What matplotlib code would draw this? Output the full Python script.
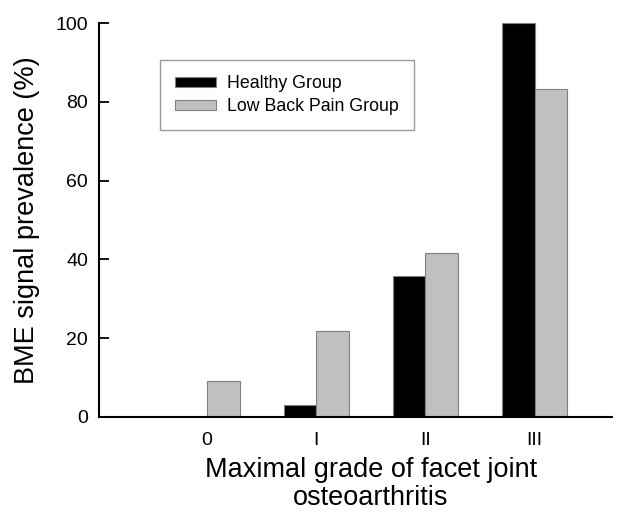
import numpy as np
import matplotlib.pyplot as plt

plt.rcParams['font.family'] = ['Liberation Sans', 'DejaVu Sans']

# Data
grades = ['0', 'I', 'II', 'III']
healthy = [0, 3.0, 35.7, 100]
low_back_pain = [9.1, 21.7, 41.7, 83.3]

x = np.arange(len(grades))
w = 0.30

fig = plt.figure(figsize=(6.35, 5.12), dpi=100)
ax = fig.add_axes([0.156, 0.186, 0.808, 0.7686])

ax.bar(x - w / 2, healthy, w, color='black', edgecolor='#808080', linewidth=0.8,
       label='Healthy Group')
ax.bar(x + w / 2, low_back_pain, w, color='#c0c0c0', edgecolor='#808080', linewidth=0.8,
       label='Low Back Pain Group')

ax.set_xlim(-0.99, 3.71)
ax.set_ylim(0, 100)
ax.set_yticks([0, 20, 40, 60, 80, 100])
ax.set_xticks(x)
ax.set_xticklabels(grades)
ax.tick_params(axis='y', direction='in', length=7, width=1.3, labelsize=14, pad=8)
ax.tick_params(axis='x', length=0, labelsize=14, pad=11)

for s in ['top', 'right']:
    ax.spines[s].set_visible(False)
for s in ['left', 'bottom']:
    ax.spines[s].set_linewidth(1.5)

ax.set_ylabel('BME signal prevalence (%)', fontsize=19.5, labelpad=11)
ax.set_xlabel('Maximal grade of facet joint\nosteoarthritis', fontsize=19.5,
              linespacing=1.08)
ax.xaxis.set_label_coords(0.53, -0.102)
ax.xaxis.label.set_va('top')

leg = ax.legend(loc='upper left', bbox_to_anchor=(0.119, 0.907), fontsize=12.8,
                frameon=True, fancybox=False, borderaxespad=0, handlelength=2.3,
                handleheight=0.5, borderpad=0.85, labelspacing=0.35, handletextpad=0.6)
leg.get_frame().set_edgecolor('#808080')
leg.get_frame().set_linewidth(1.0)

plt.savefig('out.png', dpi=100)
